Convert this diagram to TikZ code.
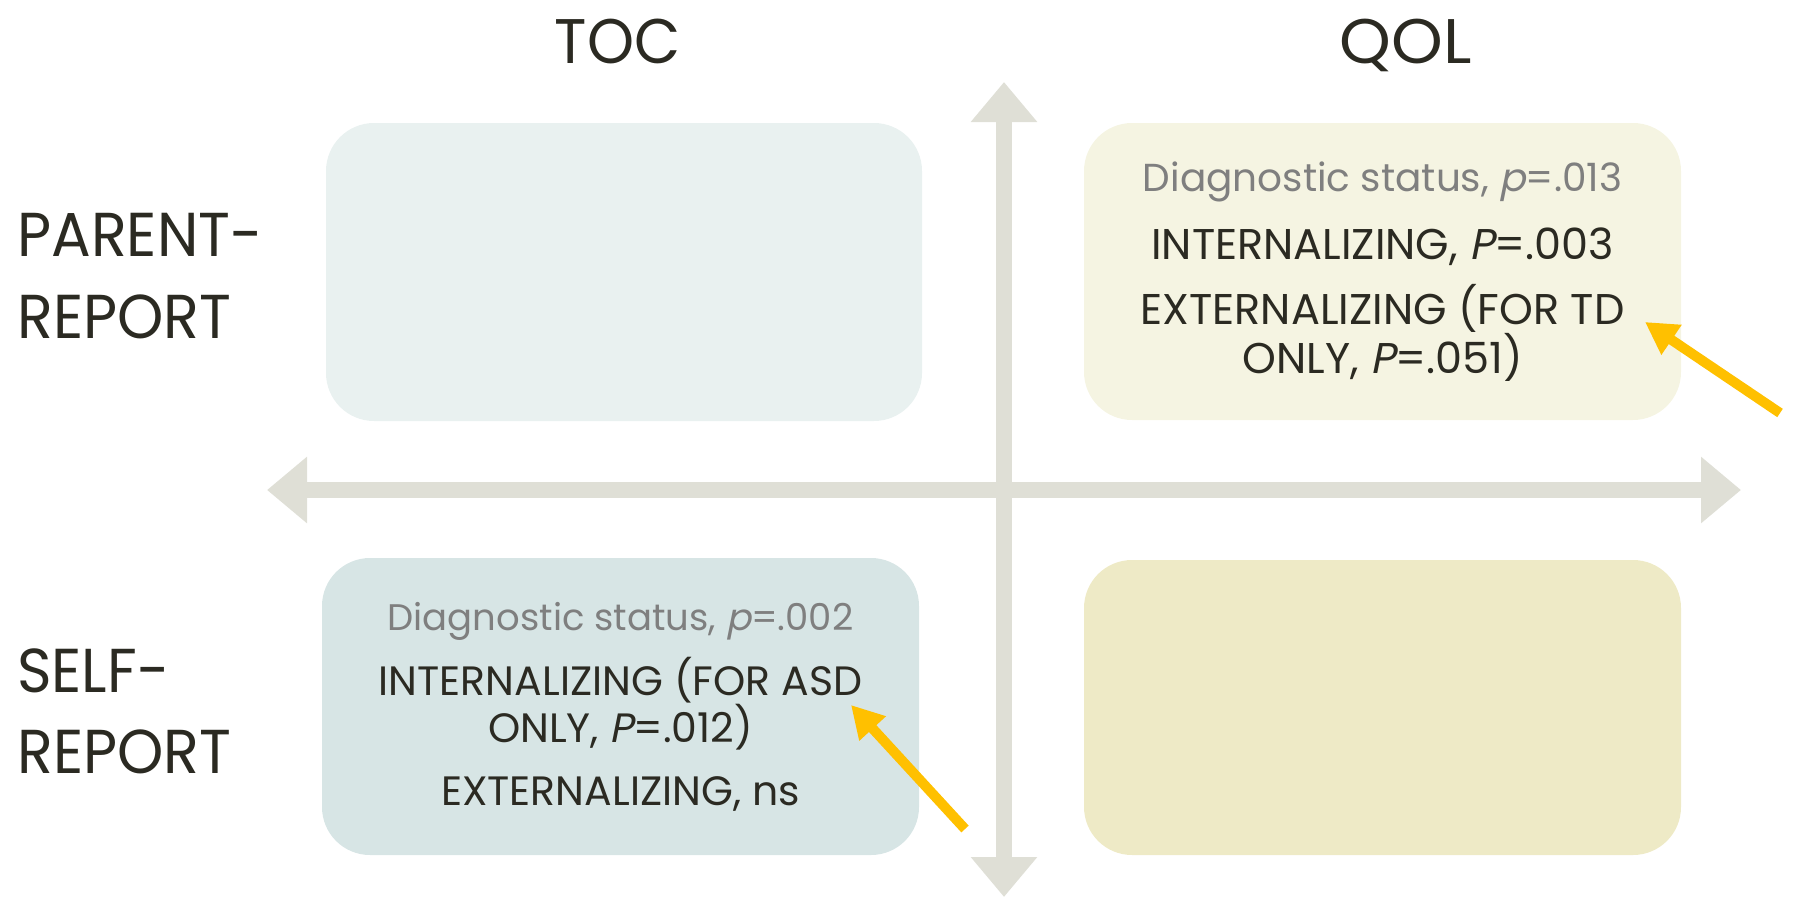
\documentclass[tikz,border=0pt]{standalone}
\usepackage{fontspec}
\setmainfont{Poppins}[ItalicFont=Poppins, ItalicFeatures={FakeSlant=0.2}]
\newfontfamily\labelfont{Poppins}[FakeStretch=0.95]
\usetikzlibrary{arrows.meta}
\definecolor{ink}{HTML}{2B2A22}
\definecolor{graytext}{HTML}{7F7F7F}
\definecolor{axiscol}{HTML}{DFDFD6}
\definecolor{tocparent}{HTML}{E9F1F0}
\definecolor{qolparent}{HTML}{F5F4E2}
\definecolor{tocself}{HTML}{D7E5E5}
\definecolor{qolself}{HTML}{EEEAC6}
\definecolor{hilite}{HTML}{FFC000}
\tikzset{
  quadbox/.style={rounded corners=48pt, inner sep=0pt, minimum width=597pt, minimum height=297pt, align=center, text=ink},
  axisline/.style={draw=axiscol, line width=16.5pt, {Triangle[length=40pt,width=64pt]}-{Triangle[length=40pt,width=64pt]}},
  pointer/.style={draw=hilite, line width=10pt, -{Triangle[length=32pt,width=34pt]}},
  title/.style={text=ink, font=\labelfont\fontsize{63}{70}\selectfont, inner sep=0pt, anchor=base},
  sidelabel/.style={text=ink, font=\labelfont\fontsize{62}{70}\selectfont, inner sep=0pt, anchor=base west},
}
\newcommand{\gr}[2][39]{{\color{graytext}\fontsize{#1}{48}\selectfont #2}}
\begin{document}
\begin{tikzpicture}[x=1pt,y=-1pt]
\useasboundingbox (0,0) rectangle (1793,897);
% quadrant boxes
\node[quadbox, fill=tocparent, minimum width=596pt, minimum height=298pt] (tp) at (624,272) {};
\node[quadbox, fill=qolparent, font=\fontsize{43}{49}\selectfont] (qp) at (1382.5,271.5)
  {\gr{Diagnostic status, \textit{p}=.013}\\[19pt]
   INTERNALIZING, \textit{P}=.003\\[16pt]
   EXTERNALIZING (FOR TD\\
   ONLY, \textit{P}=.051)};
\node[quadbox, fill=tocself, font=\fontsize{41}{47}\selectfont] (ts) at (620.5,706.5)
  {\gr[37]{Diagnostic status, \textit{p}=.002}\\[16pt]
   INTERNALIZING (FOR ASD\\
   ONLY, \textit{P}=.012)\\[16pt]
   EXTERNALIZING, ns};
\node[quadbox, fill=qolself, minimum height=295pt] (qs) at (1382.5,707.5) {};
% axes
\coordinate (vtop) at (1004,82);
\coordinate (vbot) at (1004,897);
\coordinate (hleft) at (267,490);
\coordinate (hright) at (1741,490);
\draw[axisline] (vtop) -- (vbot);
\draw[axisline] (hleft) -- (hright);
% titles
\node[title] (toc) at (617.5,63) {TOC};
\node[title, xscale=1.1] (qol) at (1405.5,63) {QOL};
\node[sidelabel] (pr1) at (17,256) {PARENT-};
\node[sidelabel] (pr2) at (17,338) {REPORT};
\node[sidelabel] (sr1) at (17,692) {SELF-};
\node[sidelabel] (sr2) at (17,773) {REPORT};
% pointers
\coordinate (p1tail) at (1780,413);
\coordinate (p1tip) at (1645,322);
\coordinate (p2tail) at (965,829);
\coordinate (p2tip) at (851,705);
\draw[pointer] (p1tail) -- (p1tip);
\draw[pointer] (p2tail) -- (p2tip);
\end{tikzpicture}
\end{document}
